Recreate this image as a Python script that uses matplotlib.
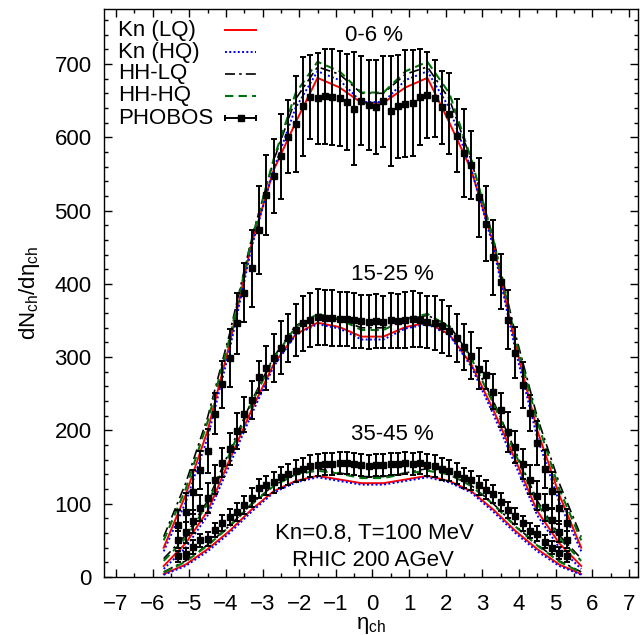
import numpy as np
import matplotlib
matplotlib.use('Agg')
import matplotlib.pyplot as plt
from matplotlib.ticker import MultipleLocator

plt.rcParams['font.family'] = ['Liberation Sans', 'DejaVu Sans']
plt.rcParams['mathtext.fontset'] = 'custom'
plt.rcParams['mathtext.rm'] = 'Liberation Sans'
plt.rcParams['mathtext.it'] = 'Liberation Sans:italic'

# PHOBOS dN/deta, bin centres -5.3 ... 5.3
eta_data = np.round(np.arange(-5.3, 5.31, 0.2), 1)

phobos_0_6 = [71, 89, 116, 146, 172, 223, 263, 299, 346, 388, 421, 473, 521, 547,
              574, 601, 618, 642, 655, 653, 656, 655, 653, 648, 639, 650, 644,
              641, 649, 636, 642, 646, 647, 655, 658, 653, 641, 632, 602, 579,
              562, 518, 482, 436, 403, 351, 306, 262, 224, 183, 147, 118, 94, 73]
err_0_6 = [20, 25, 30, 26, 30, 28, 32, 40, 42, 40, 52, 60, 55, 50,
           58, 50, 65, 68, 57, 62, 65, 65, 65, 65, 77, 61, 62,
           64, 62, 75, 70, 73, 72, 65, 59, 52, 50, 55, 50, 60,
           46, 54, 51, 51, 38, 40, 35, 32, 25, 30, 26, 25, 22, 20]

phobos_15_25 = [51, 61, 76, 94, 108, 133, 156, 175, 199, 222, 242, 273, 285, 299,
                313, 326, 337, 346, 351, 355, 354, 353, 352, 352, 350, 349, 348,
                349, 348, 350, 349, 351, 352, 351, 348, 347, 342, 336, 326, 314,
                302, 284, 276, 253, 228, 198, 177, 154, 133, 111, 95, 78, 62, 51]
err_15_25 = [12, 14, 16, 18, 20, 20, 20, 22, 25, 24, 26, 22, 30, 33,
             36, 33, 36, 38, 37, 38, 38, 38, 37, 37, 37, 36, 37,
             37, 36, 37, 37, 38, 38, 37, 36, 37, 36, 34, 33, 31,
             32, 28, 19, 24, 23, 27, 22, 20, 20, 20, 18, 16, 14, 12]

phobos_35_45 = [28, 32, 41, 50, 52, 64, 74, 82, 89, 98, 108, 121, 125, 129,
                136, 140, 145, 147, 151, 153, 154, 154, 155, 155, 154, 153, 152,
                153, 153, 154, 154, 155, 154, 155, 153, 152, 148, 145, 141, 135,
                132, 125, 119, 113, 102, 92, 83, 73, 63, 59, 48, 40, 33, 28]
err_35_45 = [7, 8, 9, 9, 10, 10, 11, 11, 12, 12, 13, 13, 13, 14,
             14, 14, 15, 15, 15, 15, 15, 15, 15, 15, 15, 15, 15,
             15, 15, 15, 15, 15, 15, 15, 15, 15, 15, 14, 14, 14,
             13, 13, 13, 12, 12, 11, 11, 10, 10, 10, 9, 9, 8, 7]

# hydro curves
eta_model = np.round(np.arange(-5.7, 5.71, 0.6), 1)

kn_lq_0_6 = [40, 112, 200, 318, 455, 555, 620, 681, 668, 647,
             647, 668, 681, 620, 555, 455, 318, 200, 112, 40]
kn_hq_0_6 = [35, 102, 190, 310, 450, 556, 640, 690, 678, 648,
             648, 678, 690, 640, 556, 450, 310, 190, 102, 35]
hh_lq_0_6 = [55, 128, 218, 332, 462, 568, 652, 696, 686, 660,
             660, 686, 696, 652, 568, 462, 332, 218, 128, 55]
hh_hq_0_6 = [50, 120, 212, 326, 460, 570, 660, 703, 690, 661,
             661, 690, 703, 660, 570, 460, 326, 212, 120, 50]

kn_lq_15_25 = [15, 46, 90, 160, 228, 290, 331, 347, 341, 328,
               328, 341, 347, 331, 290, 228, 160, 90, 46, 15]
kn_hq_15_25 = [11, 40, 84, 153, 222, 287, 330, 345, 339, 324,
               324, 339, 345, 330, 287, 222, 153, 84, 40, 11]
hh_lq_15_25 = [25, 57, 104, 172, 240, 300, 343, 357, 351, 340,
               340, 351, 357, 343, 300, 240, 172, 104, 57, 25]
hh_hq_15_25 = [22, 53, 100, 168, 237, 298, 341, 359, 352, 337,
               337, 352, 359, 341, 298, 237, 168, 100, 53, 22]

kn_lq_35_45 = [4, 17, 38, 63, 92, 117, 131, 138, 133, 128,
               128, 133, 138, 131, 117, 92, 63, 38, 17, 4]
kn_hq_35_45 = [3, 15, 35, 60, 89, 115, 129, 136, 131, 126,
               126, 131, 136, 129, 115, 89, 60, 35, 15, 3]
hh_lq_35_45 = [7, 22, 44, 70, 100, 125, 140, 148, 142, 137,
               137, 142, 148, 140, 125, 100, 70, 44, 22, 7]
hh_hq_35_45 = [6, 21, 43, 69, 99, 124, 140, 145, 141, 135,
               135, 141, 145, 140, 124, 99, 69, 43, 21, 6]

green = '#00720a'
styles = {
    'Kn (LQ)': dict(color='red', ls='-', lw=1.4),
    'Kn (HQ)': dict(color='blue', ls=(0, (1, 1.2)), lw=1.4),
    'HH-LQ': dict(color='black', ls=(0, (6, 2.5, 1.5, 2.5)), lw=1.2),
    'HH-HQ': dict(color=green, ls=(0, (4, 2.5)), lw=1.5),
}
fs = 16

fig = plt.figure(figsize=(6.4, 6.35), dpi=100)
ax = fig.add_axes([104 / 640, 1 - 577 / 635, 534 / 640, 568 / 635])

for vals, err in [(phobos_0_6, err_0_6), (phobos_15_25, err_15_25), (phobos_35_45, err_35_45)]:
    ax.errorbar(eta_data, vals, yerr=err, fmt='s', color='black', ms=4.2,
                elinewidth=1.4, capsize=2.5, capthick=1.4, zorder=5)

groups = [
    (kn_lq_0_6, kn_hq_0_6, hh_lq_0_6, hh_hq_0_6),
    (kn_lq_15_25, kn_hq_15_25, hh_lq_15_25, hh_hq_15_25),
    (kn_lq_35_45, kn_hq_35_45, hh_lq_35_45, hh_hq_35_45),
]
names = ['Kn (LQ)', 'Kn (HQ)', 'HH-LQ', 'HH-HQ']
for grp in groups:
    for name, curve in zip(names, grp):
        ax.plot(eta_model, curve, zorder=4, **styles[name])

# key, gnuplot style (labels left, samples right)
row_y = [0.963, 0.924, 0.886, 0.847, 0.808]
x0, x1 = 0.227, 0.285
for yy, name in zip(row_y, names + ['PHOBOS']):
    ax.text(0.026, yy, name, transform=ax.transAxes, fontsize=fs, va='center', ha='left')
    if name == 'PHOBOS':
        ax.plot([x0, x1], [yy, yy], color='black', lw=1.4, transform=ax.transAxes)
        ax.plot([(x0 + x1) / 2], [yy], 's', color='black', ms=4.2, transform=ax.transAxes)
        ax.plot([x0, x1], [yy, yy], '|', color='black', ms=5, mew=1.4, transform=ax.transAxes)
    else:
        ax.plot([x0, x1], [yy, yy], transform=ax.transAxes, **styles[name])

ax.text(0.05, 739, '0-6 %', fontsize=fs, ha='center', va='center')
ax.text(0.55, 413, '15-25 %', fontsize=fs, ha='center', va='center')
ax.text(0.53, 195, '35-45 %', fontsize=fs, ha='center', va='center')
ax.text(0.05, 60, 'Kn=0.8, T=100 MeV', fontsize=fs, ha='center', va='center')
ax.text(0.0, 22, 'RHIC 200 AGeV', fontsize=fs, ha='center', va='center')

ax.set_xlim(-7.33, 7.25)
ax.set_ylim(0, 775)
ax.xaxis.set_major_locator(MultipleLocator(1))
ax.xaxis.set_minor_locator(MultipleLocator(0.5))
ax.yaxis.set_major_locator(MultipleLocator(100))
ax.yaxis.set_minor_locator(MultipleLocator(20))
ax.tick_params(which='both', direction='in', top=True, right=True, labelsize=fs, width=1)
ax.tick_params(which='major', length=6)
ax.tick_params(which='minor', length=3)
ax.tick_params(axis='x', which='major', pad=12)
ax.tick_params(axis='y', which='major', pad=9)
for s in ax.spines.values():
    s.set_linewidth(1)

ax.set_xlabel('η$_{\\mathrm{ch}}$', fontsize=fs, labelpad=0)
ax.set_ylabel('dN$_{\\mathrm{ch}}$/dη$_{\\mathrm{ch}}$', fontsize=fs, labelpad=9)

fig.savefig('out.png', dpi=100)
